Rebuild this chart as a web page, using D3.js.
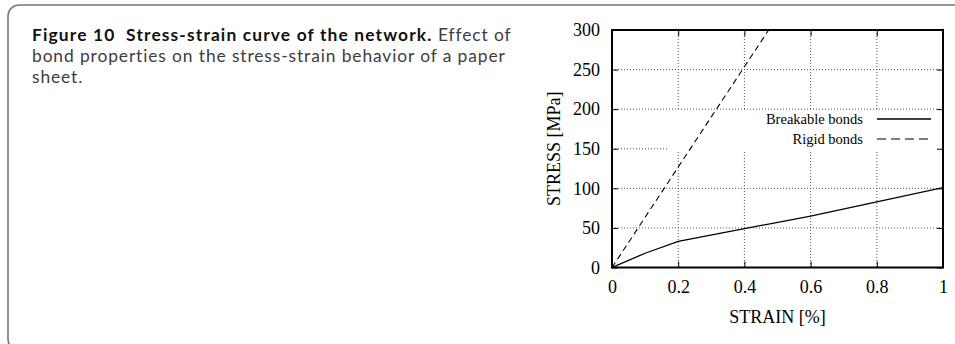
<!DOCTYPE html>
<html>
<head>
<meta charset="utf-8">
<script src="https://cdn.jsdelivr.net/npm/d3@7"></script>
<style>
  html, body { margin: 0; padding: 0; background: #fff; }
  svg { display: block; }
  text { white-space: pre; }
</style>
</head>
<body>
<svg id="fig" width="955" height="344"></svg>
<script>
// Strain values (%) and stresses (MPa) for the two bond models
const breakableStrain = [0, 0.1, 0.2, 0.4, 0.6, 0.8, 1.0];
const breakableStress = [0, 18, 33, 49, 65, 83, 101];
const rigidStrain = [0, 0.1, 0.2, 0.3, 0.4, 0.5];
const rigidStress = [0, 63.4, 126.8, 190.2, 253.6, 317];

const seriesNames = ["Breakable bonds", "Rigid bonds"];
const xTicks = [0, 0.2, 0.4, 0.6, 0.8, 1];
const yTicks = [0, 50, 100, 150, 200, 250, 300];
const xTitle = "STRAIN [%]";
const yTitle = "STRESS [MPa]";

const captionBold = "Figure 10  Stress-strain curve of the network.";
const captionLines = [" Effect of", "bond properties on the stress-strain behavior of a paper", "sheet."];

const svg = d3.select("#fig");

// rounded caption frame, open towards right and bottom
svg.append("rect")
  .attr("x", 8).attr("y", 5)
  .attr("width", 1000).attr("height", 345)
  .attr("rx", 11).attr("ry", 11)
  .attr("fill", "none")
  .attr("stroke", "#777")
  .attr("stroke-width", 1.6);

// caption: one text block, three lines
const capFont = "Lato, 'Open Sans', sans-serif";
const capX = 32, capY = 41, capLead = 21.2, capSize = 17.4;
const cap = svg.append("text")
  .attr("x", capX).attr("y", capY)
  .attr("font-family", capFont).attr("font-size", capSize);
const bold = cap.append("tspan").attr("font-weight", "bold").attr("fill", "#111").text(captionBold);
const rest1 = cap.append("tspan").attr("fill", "#3d3d3d").text(captionLines[0]);
const l2 = cap.append("tspan").attr("x", capX).attr("dy", capLead).attr("fill", "#3d3d3d").text(captionLines[1]);
const l3 = cap.append("tspan").attr("x", capX).attr("dy", capLead).attr("fill", "#3d3d3d").text(captionLines[2]);
// spread the letters so the lines fill the caption column
const line2Width = 474, line1Width = 505;
const ls2 = (line2Width - l2.node().getComputedTextLength()) / captionLines[1].length;
l2.attr("letter-spacing", ls2);
l3.attr("letter-spacing", ls2);
rest1.attr("letter-spacing", ls2);
const firstLen = bold.node().getComputedTextLength() + rest1.node().getComputedTextLength();
const lsBold = Math.min((line1Width - firstLen) / captionBold.length, ls2 + 0.25);
bold.attr("letter-spacing", lsBold);

// plot area
const X0 = 612, X1 = 943, Y0 = 30, Y1 = 267.5;
const x = d3.scaleLinear().domain([0, 1]).range([X0, X1]);
const y = d3.scaleLinear().domain([0, 300]).range([Y1, Y0]);

const serif = "'Liberation Serif', 'Times New Roman', serif";
const plot = svg.append("g");

// legend placement
const legTextRight = 863, legLineX0 = 877, legLineX1 = 931;
const legRowY = [119, 139];
const legBox = { x0: 669, x1: X1, y0: 110, y1: 152 };

// dotted grid, kept out of the key area
const grid = plot.append("g")
  .attr("stroke", "#444").attr("stroke-width", 0.9)
  .attr("stroke-dasharray", "1,2").attr("fill", "none");
function segs(a0, a1, b0, b1) {
  // split [a0,a1] around [b0,b1]
  if (b1 <= a0 || b0 >= a1) return [[a0, a1]];
  const out = [];
  if (b0 > a0) out.push([a0, b0]);
  if (b1 < a1) out.push([b1, a1]);
  return out;
}
xTicks.filter(v => v > 0 && v < 1).forEach(v => {
  const px = x(v);
  const inKey = px > legBox.x0 && px < legBox.x1;
  const parts = inKey ? segs(Y0, Y1, legBox.y0, legBox.y1) : [[Y0, Y1]];
  parts.forEach(([a, b]) => grid.append("line").attr("x1", px).attr("x2", px).attr("y1", a).attr("y2", b));
});
yTicks.filter(v => v > 0 && v < 300).forEach(v => {
  const py = y(v);
  const inKey = py > legBox.y0 && py < legBox.y1;
  const parts = inKey ? segs(X0, X1, legBox.x0, legBox.x1) : [[X0, X1]];
  parts.forEach(([a, b]) => grid.append("line").attr("y1", py).attr("y2", py).attr("x1", a).attr("x2", b));
});

// axes with inward ticks on all four sides
function styleAxis(g) {
  g.select(".domain").remove();
  g.selectAll(".tick line").attr("stroke", "#000").attr("stroke-width", 1);
  g.selectAll("text").attr("font-family", serif).attr("font-size", 18).attr("fill", "#000");
}
plot.append("g").attr("transform", `translate(${X0},0)`)
  .call(d3.axisLeft(y).tickValues(yTicks).tickSize(-6).tickPadding(12).tickFormat(d3.format("d")))
  .call(styleAxis);
plot.append("g").attr("transform", `translate(${X1},0)`)
  .call(d3.axisRight(y).tickValues(yTicks).tickSize(-6).tickFormat(""))
  .call(styleAxis);
plot.append("g").attr("transform", `translate(0,${Y1})`)
  .call(d3.axisBottom(x).tickValues(xTicks).tickSize(-6).tickPadding(13).tickFormat(d => d === 0 || d === 1 ? String(d) : d3.format(".1f")(d)))
  .call(styleAxis);
plot.append("g").attr("transform", `translate(0,${Y0})`)
  .call(d3.axisTop(x).tickValues(xTicks).tickSize(-6).tickFormat(""))
  .call(styleAxis);

// curves, clipped to the plot frame
svg.append("clipPath").attr("id", "plotclip")
  .append("rect").attr("x", X0).attr("y", Y0).attr("width", X1 - X0).attr("height", Y1 - Y0);
const line = d3.line().x(d => x(d[0])).y(d => y(d[1]));
const curves = plot.append("g").attr("clip-path", "url(#plotclip)").attr("fill", "none").attr("stroke", "#000");
curves.append("path")
  .datum(breakableStrain.map((s, i) => [s, breakableStress[i]]))
  .attr("d", line).attr("stroke-width", 1.3);
curves.append("path")
  .datum(rigidStrain.map((s, i) => [s, rigidStress[i]]))
  .attr("d", line).attr("stroke-width", 1.1).attr("stroke-dasharray", "6,4");

// key
const key = plot.append("g");
seriesNames.forEach((name, i) => {
  key.append("text")
    .attr("x", legTextRight).attr("y", legRowY[i] + 5)
    .attr("text-anchor", "end")
    .attr("font-family", serif).attr("font-size", 14.5)
    .text(name);
  key.append("line")
    .attr("x1", legLineX0).attr("x2", legLineX1)
    .attr("y1", legRowY[i]).attr("y2", legRowY[i])
    .attr("stroke", "#000").attr("stroke-width", i === 0 ? 1.3 : 1.1)
    .attr("stroke-dasharray", i === 0 ? null : "9,5");
});

// frame
plot.append("rect")
  .attr("x", X0).attr("y", Y0).attr("width", X1 - X0).attr("height", Y1 - Y0)
  .attr("fill", "none").attr("stroke", "#000").attr("stroke-width", 2);

// axis titles
svg.append("text")
  .attr("x", (X0 + X1) / 2).attr("y", 323)
  .attr("text-anchor", "middle")
  .attr("font-family", serif).attr("font-size", 18)
  .text(xTitle);
svg.append("text")
  .attr("transform", `translate(560,${(Y0 + Y1) / 2}) rotate(-90)`)
  .attr("text-anchor", "middle")
  .attr("font-family", serif).attr("font-size", 18)
  .text(yTitle);
</script>
</body>
</html>
